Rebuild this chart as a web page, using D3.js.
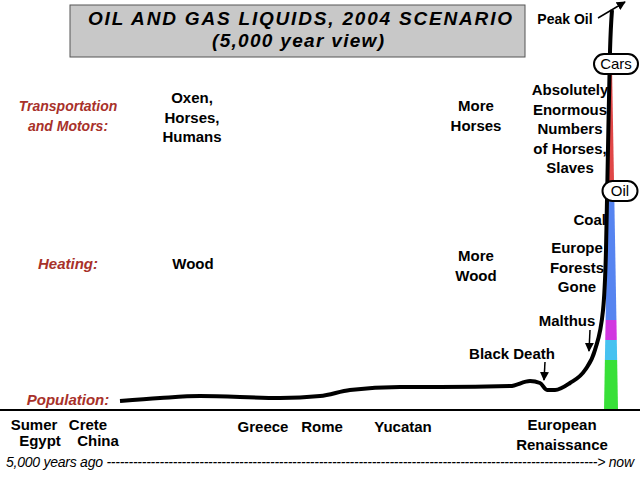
<!DOCTYPE html>
<html><head><meta charset="utf-8">
<script src="https://cdn.jsdelivr.net/npm/d3@7"></script>
<style>
body{margin:0;background:#fff}
text{font-family:"Liberation Sans",Arial,sans-serif}
</style></head>
<body><svg id="c" width="640" height="480"></svg>
<script>
// population curve (year, relative index)
var years = [-3000,-2593,-2187,-1374,-967,-663,-154,252,964,1167,1268,1340,1421,1573,1726,1827,1909,1939,1959,1980,2000];
var popIndex = [9,12,14,12,14,20,23,23,24,29,27,20,20,27,40,60,100,160,260,360,400];
// bands of the energy spike: [from, to] index, colour
var bandLo = [0,50,70,90,220,350];
var bandHi = [50,70,90,220,350,400];
var bandColor = ["#22dd22","#33bbee","#cc22dd","#4477ee","#dd3333","#222222"];

var svg = d3.select("#c");
var x = d3.scaleLinear().domain([-3000,2000]).range([120,612]);
var y = d3.scaleLinear().domain([0,400]).range([410,10]);

// title box
svg.append("rect").attr("x",70).attr("y",5).attr("width",455).attr("height",52)
  .attr("fill","#c8c8c8").attr("stroke","#555");
svg.append("text").attr("x",88).attr("y",25).attr("textLength",424).attr("font-weight","bold")
  .attr("font-size",19).attr("font-style","italic").text("OIL AND GAS LIQUIDS, 2004 SCENARIO");
svg.append("text").attr("x",212).attr("y",47).attr("textLength",172).attr("font-weight","bold")
  .attr("font-size",19).attr("font-style","italic").text("(5,000 year view)");

// energy spike
bandLo.forEach(function(lo,i){
  var hi = bandHi[i];
  var w = function(v){ return 7*(1 - v/400); };
  var cx = x(1990);
  var pts = [[cx-w(lo),y(lo)],[cx+w(lo),y(lo)],[cx+w(hi),y(hi)],[cx-w(hi),y(hi)]];
  svg.append("polygon").attr("points",pts.map(p=>p.join(",")).join(" "))
    .attr("fill",bandColor[i]).attr("opacity",0.9);
});

// axis line
svg.append("line").attr("x1",0).attr("x2",640).attr("y1",410).attr("y2",410).attr("stroke","#000").attr("stroke-width",2);

// population line
var line = d3.line().x((d,i)=>x(years[i])).y(d=>y(d)).curve(d3.curveMonotoneX);
svg.append("path").attr("d",line(popIndex)).attr("fill","none").attr("stroke","#000").attr("stroke-width",4);

function label(lines, px, py, opts){
  opts = opts||{};
  var t = svg.append("text").attr("x",px).attr("y",py).attr("text-anchor",opts.anchor||"middle")
    .attr("font-size",opts.size||15).attr("font-weight",opts.weight||"bold")
    .attr("font-style",opts.italic?"italic":"normal").attr("fill",opts.color||"#000");
  lines.forEach(function(s,i){ t.append("tspan").attr("x",px).attr("dy",i?19.5:0).text(s); });
  return t;
}
var red = "#a8312a";
label(["Transportation","and Motors:"],68,111,{color:red,italic:true,size:14});
label(["Heating:"],68,269,{color:red,italic:true});
label(["Population:"],68,405,{color:red,italic:true});
label(["Oxen,","Horses,","Humans"],192,103);
label(["More","Horses"],476,111);
label(["Absolutely","Enormous","Numbers","of Horses,","Slaves"],570,95);
label(["Wood"],193,269);
label(["More","Wood"],476,261);
label(["Coal"],606,225,{anchor:"end"});
label(["Europe","Forests","Gone"],577,253);
label(["Malthus"],567,326);
label(["Black Death"],512,359);
label(["Peak Oil"],565,24,{size:14});
label(["Sumer"],34,430);
label(["Crete"],88,430);
label(["Egypt"],40,446);
label(["China"],98,446);
label(["Greece"],263,432);
label(["Rome"],322,432);
label(["Yucatan"],403,432);
label(["European","Renaissance"],562,430);
svg.append("text").attr("x",6).attr("y",467).attr("font-size",14).attr("font-style","italic").attr("textLength",628)
  .text("5,000 years ago ---------------------------------------------------------------------------------------------------------------> now");

// pill labels
[["Cars",616,64],["Oil",620,191]].forEach(function(p){
  var w = p[0].length*9+8;
  svg.append("rect").attr("x",p[1]-w/2).attr("y",p[2]-10).attr("width",w).attr("height",20).attr("rx",10)
    .attr("fill","#fff").attr("stroke","#000").attr("stroke-width",2);
  label([p[0]],p[1],p[2]+5,{weight:"normal"});
});

// arrows
svg.append("defs").append("marker").attr("id","ah").attr("viewBox","0 0 10 10").attr("refX",9).attr("refY",5)
  .attr("markerWidth",6).attr("markerHeight",6).attr("orient","auto")
  .append("path").attr("d","M0,0L10,5L0,10z");
[[598,18,625,2],[545,362,544,380],[590,330,589,351]].forEach(function(a){
  svg.append("line").attr("x1",a[0]).attr("y1",a[1]).attr("x2",a[2]).attr("y2",a[3])
    .attr("stroke","#000").attr("stroke-width",1.5).attr("marker-end","url(#ah)");
});
</script></body></html>
